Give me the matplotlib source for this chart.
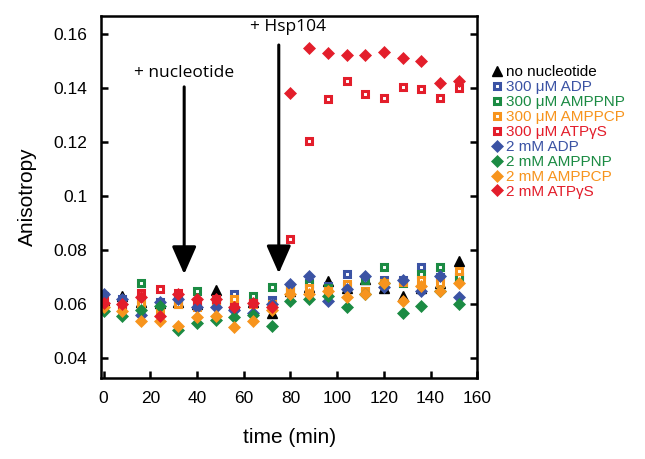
import numpy as np
import matplotlib
matplotlib.use("Agg")
import matplotlib.pyplot as plt
from matplotlib.lines import Line2D

plt.rcParams['font.family'] = ['Liberation Sans', 'DejaVu Sans']

time = [0, 8, 16, 24, 32, 40, 48, 56, 64, 72, 80, 88, 96, 104, 112, 120, 128, 136, 144, 152]

no_nuc = [0.0615, 0.0630, 0.0610, 0.0605, 0.0610, 0.0600, 0.0655, 0.0600, 0.0610, 0.0570,
          0.0650, 0.0665, 0.0685, 0.0660, 0.0693, 0.0660, 0.0630, 0.0660, 0.0680, 0.0759]
adp_300 = [0.0630, 0.0620, 0.0620, 0.0610, 0.0615, 0.0610, 0.0600, 0.0640, 0.0605, 0.0615,
           0.0665, 0.0680, 0.0670, 0.0711, 0.0648, 0.0690, 0.0690, 0.0737, 0.0700, 0.0700]
amppnp_300 = [0.0600, 0.0600, 0.0678, 0.0600, 0.0600, 0.0648, 0.0620, 0.0610, 0.0630, 0.0663,
              0.0660, 0.0674, 0.0660, 0.0670, 0.0690, 0.0737, 0.0680, 0.0711, 0.0737, 0.0700]
amppcp_300 = [0.0590, 0.0590, 0.0600, 0.0580, 0.0600, 0.0590, 0.0600, 0.0620, 0.0600, 0.0600,
              0.0648, 0.0660, 0.0648, 0.0674, 0.0650, 0.0681, 0.0683, 0.0690, 0.0681, 0.0722]
atpgs_300 = [0.0620, 0.0600, 0.0644, 0.0656, 0.0644, 0.0610, 0.0620, 0.0590, 0.0607, 0.0590,
             0.0841, 0.1204, 0.1359, 0.1426, 0.1378, 0.1363, 0.1404, 0.1396, 0.1363, 0.1400]
adp_2 = [0.0640, 0.0620, 0.0560, 0.0610, 0.0620, 0.0590, 0.0590, 0.0580, 0.0570, 0.0600,
         0.0674, 0.0704, 0.0611, 0.0656, 0.0704, 0.0663, 0.0690, 0.0648, 0.0704, 0.0626]
amppnp_2 = [0.0574, 0.0556, 0.0580, 0.0593, 0.0507, 0.0533, 0.0544, 0.0552, 0.0560, 0.0519,
            0.0611, 0.0619, 0.0630, 0.0589, 0.0640, 0.0680, 0.0570, 0.0593, 0.0650, 0.0600]
amppcp_2 = [0.0589, 0.0574, 0.0540, 0.0537, 0.0519, 0.0552, 0.0556, 0.0515, 0.0537, 0.0580,
            0.0637, 0.0637, 0.0648, 0.0626, 0.0637, 0.0681, 0.0611, 0.0670, 0.0648, 0.0681]
atpgs_2 = [0.0607, 0.0600, 0.0626, 0.0556, 0.0637, 0.0619, 0.0619, 0.0589, 0.0607, 0.0589,
           0.1381, 0.1548, 0.1530, 0.1522, 0.1522, 0.1533, 0.1511, 0.1500, 0.1419, 0.1426]

black = '#000000'
blue = '#3b53a4'
green = '#1b8b43'
orange = '#f7941d'
red = '#e31e2b'

series = [
    ('no nucleotide', no_nuc, '^', black),
    (u'300 \u03bcM ADP', adp_300, 's', blue),
    (u'300 \u03bcM AMPPNP', amppnp_300, 's', green),
    (u'300 \u03bcM AMPPCP', amppcp_300, 's', orange),
    (u'300 \u03bcM ATP\u03b3S', atpgs_300, 's', red),
    ('2 mM ADP', adp_2, 'D', blue),
    ('2 mM AMPPNP', amppnp_2, 'D', green),
    ('2 mM AMPPCP', amppcp_2, 'D', orange),
    (u'2 mM ATP\u03b3S', atpgs_2, 'D', red),
]

fig = plt.figure(figsize=(6.45, 4.59), dpi=100)
ax = fig.add_axes([0.157, 0.176, 0.583, 0.789])

handles = []
for label, vals, mk, col in series:
    if mk == 's':
        kw = dict(marker='s', markersize=4.6, markerfacecolor='white',
                  markeredgecolor=col, markeredgewidth=2.2)
    elif mk == 'D':
        kw = dict(marker='D', markersize=6.5, markerfacecolor=col,
                  markeredgecolor=col, markeredgewidth=0.5)
    else:
        kw = dict(marker='^', markersize=7, markerfacecolor=col,
                  markeredgecolor=col)
    ax.plot(time, vals, linestyle='none', **kw)
    handles.append(Line2D([], [], linestyle='none', label=label, **kw))

ax.set_xlim(-1, 160)
ax.set_ylim(0.0327, 0.1667)
ax.set_xticks(range(0, 161, 20))
ax.set_yticks([0.04, 0.06, 0.08, 0.1, 0.12, 0.14, 0.16])
ax.set_yticklabels(['0.04', '0.06', '0.08', '0.1', '0.12', '0.14', '0.16'])
ax.tick_params(direction='in', length=5, width=1.8, labelsize=12.5,
               right=True, top=False)
ax.tick_params(axis='x', pad=9)
ax.tick_params(axis='y', pad=10)
for sp in ax.spines.values():
    sp.set_linewidth(1.8)

ax.set_xlabel('time (min)', fontsize=15, labelpad=16)
ax.set_ylabel('Anisotropy', fontsize=15, labelpad=12)

# arrows marking additions
arrow = dict(arrowstyle='-|>,head_length=1.7,head_width=0.75', color='black',
             lw=2.2, shrinkA=0, shrinkB=0)
ax.annotate('', xy=(34.5, 0.0712), xytext=(34.5, 0.1405), arrowprops=arrow)
ax.annotate('', xy=(75, 0.0715), xytext=(75, 0.1560), arrowprops=arrow)
ax.text(34.5, 0.1455, '+ nucleotide', ha='center', va='center', fontsize=12.5,
        family=['Open Sans', 'DejaVu Sans'])
ax.text(79, 0.1628, '+ Hsp104', ha='center', va='center', fontsize=12.5,
        family=['Open Sans', 'DejaVu Sans'])

leg = fig.legend(handles=handles, loc='upper left', bbox_to_anchor=(0.752, 0.874),
                 frameon=False, fontsize=11, handlelength=0.6, handletextpad=0.25,
                 labelspacing=0.06, borderpad=0)
for txt, (label, vals, mk, col) in zip(leg.get_texts(), series):
    txt.set_color(col)

fig.savefig('out.png', dpi=100)
